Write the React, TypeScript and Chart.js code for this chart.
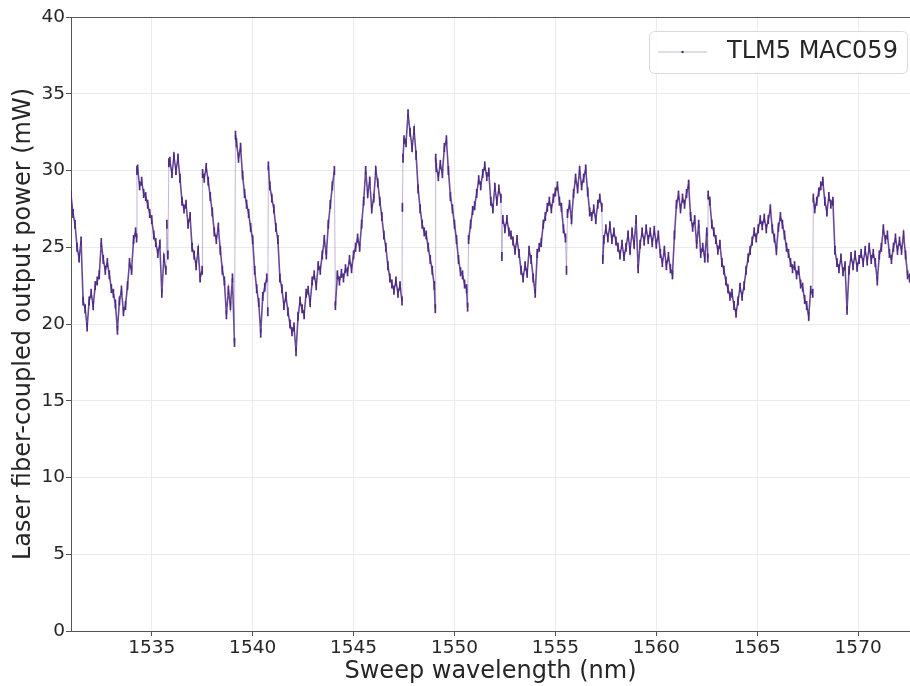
import React, { useEffect, useRef } from "react";
import { Chart, registerables } from "chart.js";

Chart.register(...registerables);

const SERIES_LABEL = "TLM5 MAC059";
const X_TITLE = "Sweep wavelength (nm)";
const Y_TITLE = "Laser fiber-coupled output power (mW)";
const X_TICKS = [1535, 1540, 1545, 1550, 1555, 1560, 1565, 1570];
const Y_TICKS = [0, 5, 10, 15, 20, 25, 30, 35, 40];
const X_MIN = 1531.0;
const X_MAX = 1572.57;

const WAVELENGTHS = [
  1531.0, 1531.1, 1531.2, 1531.3, 1531.4, 1531.5, 1531.6, 1531.7, 1531.8, 1531.9,
  1532.0, 1532.1, 1532.2, 1532.3, 1532.4, 1532.5, 1532.6, 1532.7, 1532.8, 1532.9,
  1533.0, 1533.1, 1533.2, 1533.3, 1533.4, 1533.5, 1533.6, 1533.7, 1533.8, 1533.9,
  1534.0, 1534.1, 1534.2, 1534.25, 1534.27, 1534.3, 1534.4, 1534.5, 1534.6, 1534.7, 1534.8, 1534.9,
  1535.0, 1535.1, 1535.2, 1535.3, 1535.4, 1535.5, 1535.6, 1535.7, 1535.75, 1535.8, 1535.85, 1535.9,
  1536.0, 1536.1, 1536.2, 1536.3, 1536.4, 1536.5, 1536.6, 1536.7, 1536.8, 1536.9,
  1537.0, 1537.1, 1537.2, 1537.3, 1537.4, 1537.5, 1537.52, 1537.6, 1537.7, 1537.8, 1537.9,
  1538.0, 1538.1, 1538.2, 1538.3, 1538.4, 1538.5, 1538.6, 1538.7, 1538.8, 1538.9,
  1539.0, 1539.1, 1539.15, 1539.2, 1539.3, 1539.4, 1539.5, 1539.6, 1539.7, 1539.8, 1539.9,
  1540.0, 1540.1, 1540.2, 1540.3, 1540.4, 1540.5, 1540.6, 1540.7, 1540.75, 1540.78, 1540.85, 1540.95,
  1541.05, 1541.15, 1541.25, 1541.35, 1541.45, 1541.55, 1541.65, 1541.75, 1541.85, 1541.95,
  1542.05, 1542.15, 1542.25, 1542.35, 1542.45, 1542.55, 1542.65, 1542.75, 1542.85, 1542.95,
  1543.05, 1543.15, 1543.25, 1543.35, 1543.45, 1543.55, 1543.65, 1543.75, 1543.85, 1543.95,
  1544.05, 1544.1, 1544.2, 1544.3, 1544.4, 1544.5, 1544.6, 1544.7, 1544.8, 1544.9,
  1545.0, 1545.1, 1545.2, 1545.3, 1545.4, 1545.5, 1545.6, 1545.7, 1545.8, 1545.9,
  1546.0, 1546.1, 1546.2, 1546.3, 1546.4, 1546.5, 1546.6, 1546.7, 1546.8, 1546.9,
  1547.0, 1547.1, 1547.2, 1547.3, 1547.4, 1547.42, 1547.45, 1547.5, 1547.6, 1547.7, 1547.8, 1547.9,
  1548.0, 1548.1, 1548.2, 1548.3, 1548.4, 1548.5, 1548.6, 1548.7, 1548.8, 1548.9,
  1549.0, 1549.05, 1549.07, 1549.1, 1549.2, 1549.3, 1549.4, 1549.5, 1549.6, 1549.7, 1549.8, 1549.9,
  1550.0, 1550.1, 1550.2, 1550.3, 1550.4, 1550.5, 1550.6, 1550.65, 1550.7, 1550.8, 1550.9,
  1551.0, 1551.1, 1551.2, 1551.3, 1551.4, 1551.5, 1551.6, 1551.7, 1551.8, 1551.9,
  1552.0, 1552.1, 1552.2, 1552.3, 1552.35, 1552.4, 1552.5, 1552.6, 1552.7, 1552.8, 1552.9,
  1553.0, 1553.1, 1553.2, 1553.3, 1553.4, 1553.5, 1553.6, 1553.7, 1553.8, 1553.9,
  1554.0, 1554.1, 1554.2, 1554.3, 1554.4, 1554.5, 1554.6, 1554.7, 1554.8, 1554.9,
  1555.0, 1555.1, 1555.2, 1555.3, 1555.4, 1555.5, 1555.55, 1555.6, 1555.7, 1555.8, 1555.9,
  1556.0, 1556.1, 1556.2, 1556.3, 1556.4, 1556.5, 1556.6, 1556.7, 1556.8, 1556.9,
  1557.0, 1557.1, 1557.2, 1557.3, 1557.35, 1557.4, 1557.5, 1557.6, 1557.7, 1557.8, 1557.9,
  1558.0, 1558.1, 1558.2, 1558.3, 1558.4, 1558.5, 1558.6, 1558.7, 1558.8, 1558.9,
  1559.0, 1559.1, 1559.2, 1559.3, 1559.4, 1559.5, 1559.6, 1559.7, 1559.8, 1559.9,
  1560.0, 1560.1, 1560.2, 1560.3, 1560.4, 1560.5, 1560.6, 1560.7, 1560.8, 1560.9,
  1561.0, 1561.1, 1561.2, 1561.3, 1561.4, 1561.5, 1561.6, 1561.7, 1561.8, 1561.9,
  1562.0, 1562.1, 1562.2, 1562.3, 1562.4, 1562.5, 1562.55, 1562.57, 1562.65, 1562.75, 1562.85, 1562.95,
  1563.05, 1563.15, 1563.25, 1563.35, 1563.45, 1563.55, 1563.65, 1563.75, 1563.85, 1563.95,
  1564.05, 1564.15, 1564.25, 1564.35, 1564.45, 1564.55, 1564.65, 1564.75, 1564.85, 1564.95,
  1565.05, 1565.15, 1565.25, 1565.35, 1565.45, 1565.55, 1565.65, 1565.75, 1565.85, 1565.95,
  1566.05, 1566.15, 1566.25, 1566.35, 1566.45, 1566.55, 1566.65, 1566.75, 1566.85, 1566.95,
  1567.05, 1567.15, 1567.25, 1567.35, 1567.45, 1567.55, 1567.65, 1567.75, 1567.78, 1567.85, 1567.95,
  1568.05, 1568.15, 1568.25, 1568.35, 1568.45, 1568.55, 1568.65, 1568.75, 1568.85, 1568.95,
  1569.05, 1569.15, 1569.25, 1569.35, 1569.45, 1569.55, 1569.65, 1569.75, 1569.85, 1569.95,
  1570.05, 1570.15, 1570.25, 1570.35, 1570.45, 1570.55, 1570.65, 1570.75, 1570.85, 1570.95,
  1571.05, 1571.15, 1571.25, 1571.35, 1571.45, 1571.55, 1571.65, 1571.75, 1571.85, 1571.95,
  1572.05, 1572.15, 1572.25, 1572.35, 1572.45, 1572.55,
];

const POWER_MW = [
  28.4, 27.2, 26.5, 25.0, 24.3, 25.4, 21.5, 21.0, 19.8, 21.5,
  22.0, 21.2, 22.5, 22.8, 23.2, 25.3, 24.2, 23.5, 24.0, 23.2,
  22.3, 22.0, 21.3, 19.6, 21.5, 22.2, 20.8, 21.2, 22.5, 24.0,
  23.5, 25.5, 26.0, 25.6, 30.0, 30.1, 29.0, 29.3, 28.5, 28.3, 27.8, 27.2,
  26.8, 25.8, 25.3, 24.6, 25.2, 22.0, 24.3, 23.5, 26.5, 24.5, 30.5, 30.6,
  29.8, 30.9, 30.0, 30.8, 29.5, 28.0, 27.5, 27.8, 26.5, 27.0,
  25.0, 24.5, 23.8, 24.8, 23.0, 23.5, 29.8, 29.5, 30.2, 29.3, 28.3,
  27.3, 26.0, 25.5, 26.3, 24.8, 23.5, 22.8, 20.6, 22.2, 21.2,
  23.0, 18.8, 32.3, 31.8, 30.8, 31.5, 29.7, 28.5, 27.8, 27.2, 26.3,
  25.5, 23.5, 22.3, 21.4, 19.4, 21.8, 22.4, 23.0, 20.8, 30.3, 29.0, 28.2,
  27.5, 26.3, 25.5, 23.0, 22.3, 21.2, 21.8, 20.8, 20.0, 19.5,
  19.8, 18.2, 20.5, 21.5, 21.0, 20.6, 22.0, 22.2, 21.4, 22.8,
  23.2, 22.5, 23.8, 23.5, 24.5, 25.5, 24.5, 26.5, 27.8, 29.0,
  30.0, 21.2, 23.2, 22.8, 23.3, 23.0, 23.6, 23.4, 24.2, 23.6,
  24.5, 25.0, 25.6, 25.0, 26.5, 28.0, 30.0, 28.5, 29.3, 27.5,
  28.2, 30.0, 29.2, 28.0, 27.0, 25.8, 25.0, 23.8, 23.0, 22.6,
  22.2, 22.8, 22.0, 22.5, 21.5, 27.6, 30.8, 32.0, 31.8, 33.7, 32.5, 31.5,
  32.6, 31.0, 28.8, 27.5, 26.5, 26.0, 25.8, 25.0, 24.2, 23.5,
  22.5, 21.0, 30.8, 30.2, 29.6, 30.4, 29.8, 31.5, 32.0, 30.0, 28.3, 27.5,
  26.5, 25.5, 24.2, 23.4, 23.2, 22.6, 22.3, 21.1, 25.5, 26.5, 27.4,
  27.7, 28.5, 29.4, 29.0, 29.8, 30.3, 29.6, 29.9, 28.0, 27.5,
  28.9, 28.0, 28.8, 28.2, 24.4, 26.8, 26.2, 26.8, 26.0, 25.8, 25.4,
  24.8, 25.5, 24.6, 23.5, 23.0, 23.8, 23.3, 24.8, 24.2, 23.0,
  22.0, 24.6, 25.0, 25.3, 26.5, 27.0, 27.6, 28.0, 27.5, 28.2,
  28.6, 29.0, 28.0, 27.6, 26.2, 25.6, 23.5, 27.2, 27.8, 26.8, 28.5,
  29.5, 28.8, 30.0, 29.0, 29.5, 30.1, 28.6, 27.3, 27.0, 27.5,
  26.8, 27.8, 28.2, 27.6, 24.2, 25.5, 26.2, 25.6, 26.4, 25.5, 26.0,
  25.4, 25.0, 24.5, 25.2, 24.4, 25.0, 25.8, 24.8, 26.0, 25.2,
  26.8, 23.6, 25.2, 26.0, 25.4, 26.2, 25.5, 26.0, 25.3, 26.1,
  25.2, 25.8, 24.6, 24.0, 24.8, 23.8, 24.4, 23.6, 23.2, 25.8,
  27.8, 28.4, 27.5, 28.2, 27.8, 28.5, 29.1, 27.0, 26.3, 26.8,
  25.2, 26.5, 24.6, 25.0, 24.3, 26.0, 24.3, 28.4, 28.0, 26.5, 26.0, 25.5,
  24.8, 25.2, 24.0, 23.5, 22.8, 22.3, 21.8, 22.0, 21.2, 20.7,
  21.5, 22.4, 21.8, 22.5, 23.5, 24.3, 24.8, 25.4, 26.0, 25.6,
  26.2, 26.8, 26.4, 26.9, 26.2, 26.8, 27.5, 26.2, 25.6, 24.8,
  26.3, 27.0, 26.5, 25.8, 25.0, 24.6, 24.0, 23.6, 23.8, 23.2,
  23.5, 22.6, 22.4, 21.6, 21.2, 20.5, 22.2, 22.0, 28.2, 27.5, 28.0,
  28.6, 29.0, 29.3, 28.0, 27.3, 28.3, 27.8, 28.0, 24.8, 24.0,
  23.6, 24.3, 23.4, 23.8, 20.9, 23.5, 24.4, 23.8, 24.5, 23.7,
  24.2, 24.6, 24.0, 24.8, 24.1, 25.0, 24.2, 24.6, 24.0, 22.8,
  24.5, 25.0, 26.2, 25.5, 25.8, 24.6, 24.2, 25.0, 25.6, 24.8,
  25.4, 24.8, 25.8, 24.5, 23.2, 23.0,
];

const FONT = "'DejaVu Sans', 'Liberation Sans', sans-serif";
const TEXT_COLOR = "#262626";
const SPINE_COLOR = "#555555";
const GRID_COLOR = "#ebebeb";
const POINT_COLOR = "#4e2a84";
const BAND_COLOR = "rgba(78, 42, 132, 0.85)";
const LINE_COLOR = "rgba(120, 95, 160, 0.45)";

const isJump = (c: any) => {
  const dx = Math.abs(c.p1.x - c.p0.x);
  const dy = Math.abs(c.p1.y - c.p0.y);
  return dx < 1.5 && dy > 30;
};

const framePlugin = {
  id: "frameAndLegend",
  afterDraw(chart: any) {
    const { ctx, chartArea } = chart;
    ctx.save();
    ctx.strokeStyle = SPINE_COLOR;
    ctx.lineWidth = 1;
    ctx.beginPath();
    ctx.moveTo(chartArea.left, chartArea.top + 0.5);
    ctx.lineTo(chartArea.right, chartArea.top + 0.5);
    ctx.stroke();

    const w = 258;
    const h = 42;
    const x = chartArea.right - w - 3;
    const y = chartArea.top + 14;
    ctx.beginPath();
    (ctx as any).roundRect(x + 0.5, y + 0.5, w, h, 5);
    ctx.fillStyle = "rgba(255,255,255,0.85)";
    ctx.fill();
    ctx.strokeStyle = "#d9d9d9";
    ctx.stroke();

    const ly = y + h / 2;
    ctx.strokeStyle = LINE_COLOR;
    ctx.beginPath();
    ctx.moveTo(x + 9, ly);
    ctx.lineTo(x + 58, ly);
    ctx.stroke();
    ctx.fillStyle = POINT_COLOR;
    ctx.beginPath();
    ctx.arc(x + 33.5, ly, 1.2, 0, Math.PI * 2);
    ctx.fill();

    ctx.fillStyle = TEXT_COLOR;
    ctx.font = `24px ${FONT}`;
    ctx.textBaseline = "middle";
    ctx.textAlign = "left";
    ctx.fillText(SERIES_LABEL, x + 78, ly);
    ctx.restore();
  },
};

export default function App() {
  const canvasRef = useRef<HTMLCanvasElement | null>(null);

  useEffect(() => {
    if (!canvasRef.current) return;
    const points = WAVELENGTHS.map((wl, i) => ({ x: wl, y: POWER_MW[i] }));
    const chart = new Chart(canvasRef.current, {
      type: "line",
      data: {
        datasets: [
          {
            label: SERIES_LABEL,
            data: points,
            borderColor: BAND_COLOR,
            borderWidth: 1.6,
            segment: {
              borderColor: (c: any) => (isJump(c) ? LINE_COLOR : BAND_COLOR),
              borderWidth: (c: any) => (isJump(c) ? 1 : 1.6),
            },
            pointStyle: "line",
            pointRotation: 90,
            pointRadius: 4.5,
            pointBorderColor: POINT_COLOR,
            pointBackgroundColor: POINT_COLOR,
            pointBorderWidth: 1.7,
            pointHoverRadius: 0,
            tension: 0,
          },
        ],
      },
      options: {
        responsive: false,
        animation: false,
        events: [],
        layout: { autoPadding: false, padding: { left: 0, right: 0, top: 17, bottom: 0 } },
        plugins: {
          legend: { display: false },
          tooltip: { enabled: false },
        },
        scales: {
          x: {
            type: "linear",
            min: X_MIN,
            max: X_MAX,
            afterBuildTicks: (scale: any) => {
              scale.ticks = X_TICKS.map((v) => ({ value: v }));
            },
            afterFit: (scale: any) => {
              scale.height = 55;
            },
            ticks: {
              autoSkip: false,
              maxRotation: 0,
              padding: 1,
              color: TEXT_COLOR,
              font: { family: FONT, size: 18.5 },
              callback: (v: any) => String(v),
            },
            grid: {
              color: GRID_COLOR,
              tickColor: SPINE_COLOR,
              tickLength: 5,
            },
            border: { color: SPINE_COLOR, width: 1 },
            title: {
              display: true,
              text: X_TITLE,
              color: TEXT_COLOR,
              font: { family: FONT, size: 24 },
              padding: { top: 0, bottom: 0 },
            },
          },
          y: {
            type: "linear",
            min: 0,
            max: 40,
            afterBuildTicks: (scale: any) => {
              scale.ticks = Y_TICKS.map((v) => ({ value: v }));
            },
            afterFit: (scale: any) => {
              scale.width = 71;
            },
            ticks: {
              autoSkip: false,
              padding: 1,
              color: TEXT_COLOR,
              font: { family: FONT, size: 18.5 },
              callback: (v: any) => String(v),
            },
            grid: {
              color: GRID_COLOR,
              tickColor: SPINE_COLOR,
              tickLength: 5,
            },
            border: { color: SPINE_COLOR, width: 1 },
            title: {
              display: true,
              text: Y_TITLE,
              color: TEXT_COLOR,
              font: { family: FONT, size: 24 },
              padding: { top: 9, bottom: 0 },
            },
          },
        },
      },
      plugins: [framePlugin],
    });
    return () => chart.destroy();
  }, []);

  return (
    <div style={{ position: "absolute", left: 0, top: 0, width: 910, height: 686, background: "#fff" }}>
      <canvas ref={canvasRef} width={910} height={686} />
    </div>
  );
}
